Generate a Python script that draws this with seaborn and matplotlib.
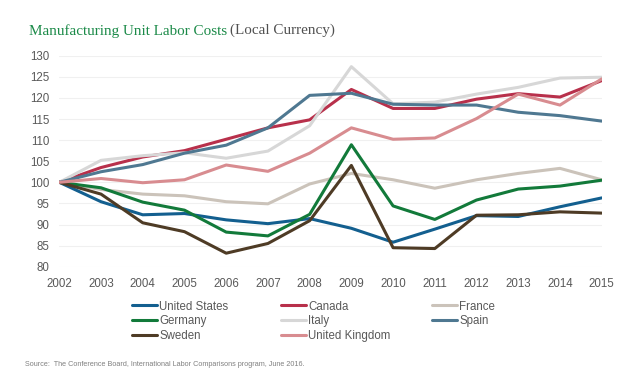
import numpy as np
import pandas as pd
import seaborn as sns
import matplotlib.pyplot as plt
from matplotlib.lines import Line2D

years = list(range(2002, 2016))

united_states = [100, 95.4, 92.3, 92.6, 91.1, 90.2, 91.4, 89.1, 85.8, 88.9, 92.1, 91.9, 94.2, 96.3]
canada = [100, 103.5, 106.0, 107.5, 110.2, 112.9, 114.8, 122.0, 117.5, 117.5, 119.7, 121.0, 120.2, 124.1]
france = [100, 98.3, 97.2, 96.8, 95.4, 94.9, 99.6, 102.1, 100.6, 98.6, 100.6, 102.1, 103.3, 100.6]
germany = [100, 98.7, 95.3, 93.4, 88.2, 87.3, 92.4, 108.9, 94.4, 91.2, 95.8, 98.4, 99.1, 100.5]
italy = [100, 105.2, 106.3, 107.0, 105.7, 107.4, 113.4, 127.4, 118.6, 119.0, 120.9, 122.5, 124.7, 124.9]
spain = [100, 102.5, 104.2, 106.9, 108.8, 112.9, 120.6, 121.1, 118.5, 118.3, 118.3, 116.6, 115.8, 114.5]
sweden = [100, 97.2, 90.4, 88.3, 83.2, 85.5, 90.9, 104.0, 84.5, 84.3, 92.2, 92.3, 93.0, 92.7]
united_kingdom = [100, 100.9, 99.9, 100.6, 104.1, 102.6, 106.9, 112.9, 110.2, 110.5, 115.1, 120.9, 118.3, 124.5]

countries = ['United States', 'Canada', 'France', 'Germany', 'Italy', 'Spain', 'Sweden', 'United Kingdom']
series = [united_states, canada, france, germany, italy, spain, sweden, united_kingdom]
colors = ['#135f8f', '#b8304b', '#cbc3ba', '#127a3a', '#d7d7d7', '#4f7891', '#4e3b25', '#d88c90']
palette = dict(zip(countries, colors))

df = pd.DataFrame({
    'year': years * len(countries),
    'value': [v for s in series for v in s],
    'country': [c for c in countries for _ in years],
})

sns.set_style('white')
plt.rcParams['font.family'] = ['Liberation Sans', 'DejaVu Sans']

W, H = 640, 391
fig = plt.figure(figsize=(W / 100, H / 100), dpi=100)
ax = fig.add_axes([59.3 / W, 1 - 266.7 / H, (601.7 - 59.3) / W, (266.7 - 55.7) / H])

sns.lineplot(data=df, x='year', y='value', hue='country', hue_order=countries,
             palette=palette, linewidth=2.2, ax=ax, legend=False)

ax.set_xlim(2002, 2015)
ax.set_ylim(80, 130)
ax.set_xticks(years)
ax.set_xticklabels([str(y) for y in years])
ax.set_yticks(range(80, 131, 5))
ax.set_xlabel('')
ax.set_ylabel('')
ax.grid(axis='y', color='#f0f0f0', linewidth=0.8)
ax.set_axisbelow(True)
for s in ax.spines.values():
    s.set_visible(False)
ax.tick_params(axis='both', length=0, labelsize=8.3, labelcolor='#595959')
ax.tick_params(axis='x', pad=7.8)
ax.tick_params(axis='y', pad=7.2)

# legend, row-major in three fixed-width columns
handles = {c: Line2D([], [], color=palette[c], linewidth=2.2) for c in countries}
cols = [['United States', 'Germany', 'Sweden'],
        ['Canada', 'Italy', 'United Kingdom'],
        ['France', 'Spain']]
col_x = [131.7, 281, 431.7]
for cx, names in zip(col_x, cols):
    leg = fig.legend([handles[n] for n in names], names, loc='upper left',
                     bbox_to_anchor=(cx / W, 1 - 300.5 / H), frameon=False,
                     fontsize=8.3, handlelength=2.2, handletextpad=0.17,
                     labelspacing=0.22, borderpad=0, borderaxespad=0)
    for t in leg.get_texts():
        t.set_color('#595959')

# title in two colours
t1 = fig.text(29.3 / W, 1 - 30.7 / H, 'Manufacturing Unit Labor Costs', fontsize=10.9,
              family=['Liberation Serif', 'DejaVu Serif'], color='#1b8a48', va='center')
fig.canvas.draw()
bb = t1.get_window_extent(fig.canvas.get_renderer())
fig.text((bb.x1 + 3) / W, 1 - 30.7 / H, '(Local Currency)', fontsize=10.9,
         family=['Liberation Serif', 'DejaVu Serif'], color='#505050', va='center')

fig.text(25 / W, 1 - 365 / H,
         'Source:  The Conference Board, International Labor Comparisons program, June 2016.',
         fontsize=5.25, color='#808080', va='center')

plt.savefig('out.png', dpi=100)
